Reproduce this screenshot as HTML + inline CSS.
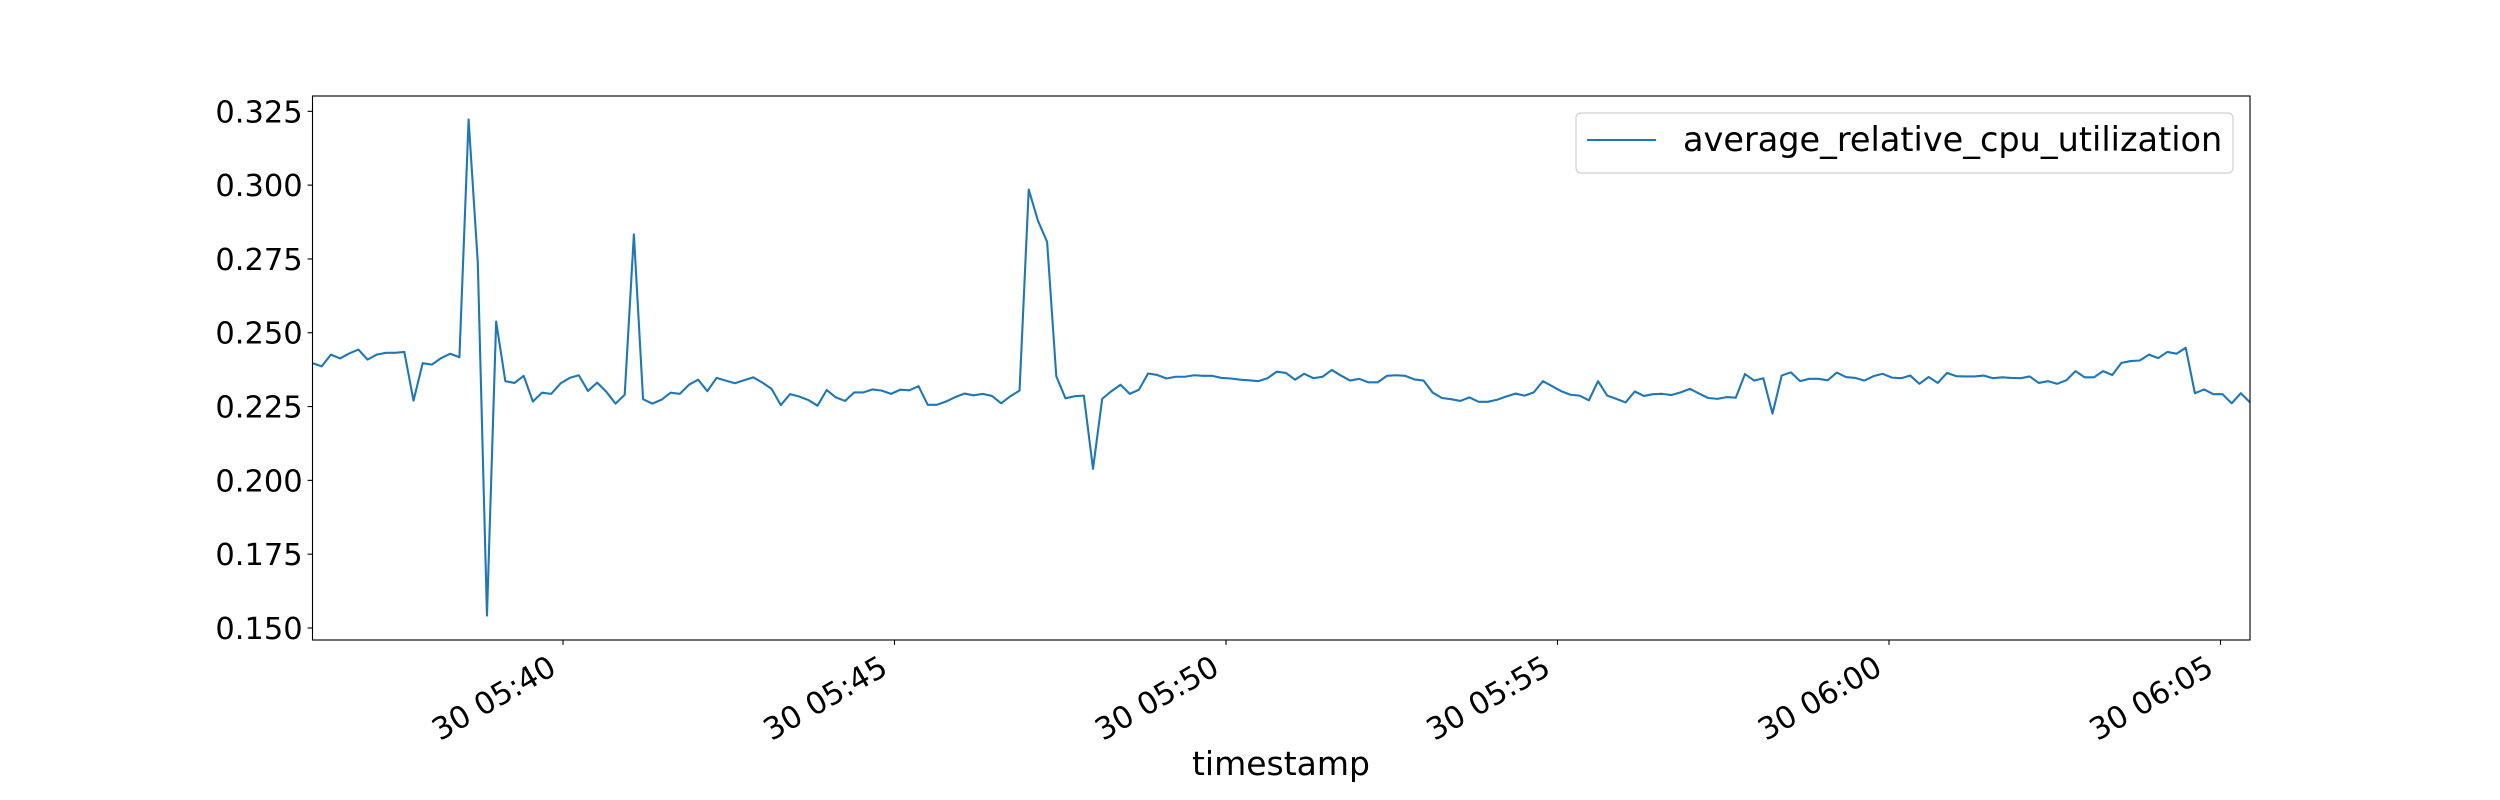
<!DOCTYPE html>
<html><head><meta charset="utf-8"><style>
html,body{margin:0;padding:0;background:#fff;}
svg{display:block;font-family:"DejaVu Sans","Liberation Sans",sans-serif;}
</style></head><body>
<svg id="chart" width="2500" height="800" viewBox="0 0 2500 800">
  <rect x="0" y="0" width="2500" height="800" fill="#fff"/>
  <g id="plot"></g>
  <g id="yaxis"></g>
  <g id="xaxis"></g>
  <rect x="312.5" y="96" width="1937.5" height="544" fill="none" stroke="#000" stroke-width="1.1"/>
  <text x="1281" y="775" font-size="33" text-anchor="middle">timestamp</text>
  <g>
    <rect x="1576" y="113" width="657" height="60" rx="5" fill="#fff" fill-opacity="0.8" stroke="#d0d0d0" stroke-width="1.2"/>
    <line x1="1587" y1="140" x2="1656" y2="140" stroke="#1f77b4" stroke-width="2.1"/>
    <text x="1683" y="151" font-size="33.5">average_relative_cpu_utilization</text>
  </g>
</svg>
<script>
const seriesValues = [
0.2397,0.2386,0.2426,0.2413,0.2430,0.2443,0.2409,0.2426,0.2432,0.2432,0.2435,0.2270,0.2397,0.2392,0.2414,0.2429,0.2417,0.3222,0.2739,0.1542,0.2538,0.2336,0.2330,0.2354,0.2267,0.2297,0.2293,0.2328,0.2347,0.2356,0.2303,0.2331,0.2300,0.2260,0.2290,0.2833,0.2275,
0.2260,0.2273,0.2297,0.2293,0.2324,0.2341,0.2302,0.2347,0.2338,0.2329,0.2339,0.2349,0.2331,0.2310,0.2255,0.2292,0.2284,0.2272,0.2253,0.2306,0.2281,0.2269,0.2298,0.2298,0.2308,0.2304,0.2293,0.2307,0.2305,0.2319,0.2256,0.2256,0.2267,0.2282,0.2294,0.2288,
0.2293,0.2286,0.2261,0.2285,0.2304,0.2985,0.2880,0.2808,0.2353,0.2278,0.2285,0.2287,0.2039,0.2276,0.2302,0.2324,0.2293,0.2307,0.2362,0.2357,0.2345,0.2351,0.2351,0.2356,0.2354,0.2354,0.2347,0.2345,0.2341,0.2339,0.2336,0.2346,0.2368,0.2364,0.2341,0.2361,
0.2346,0.2351,0.2374,0.2355,0.2338,0.2344,0.2332,0.2332,0.2354,0.2356,0.2354,0.2342,0.2338,0.2297,0.2279,0.2275,0.2269,0.2281,0.2266,0.2266,0.2273,0.2284,0.2294,0.2287,0.2298,0.2336,0.2319,0.2302,0.2290,0.2287,0.2271,0.2336,0.2287,0.2276,0.2264,0.2301,
0.2286,0.2292,0.2293,0.2289,0.2298,0.2310,0.2294,0.2279,0.2276,0.2282,0.2280,0.2360,0.2338,0.2346,0.2226,0.2355,0.2366,0.2336,0.2344,0.2344,0.2339,0.2365,0.2350,0.2347,0.2338,0.2353,0.2361,0.2348,0.2346,0.2355,0.2327,0.2350,0.2330,0.2364,0.2353,0.2352,
0.2352,0.2355,0.2346,0.2349,0.2347,0.2346,0.2352,0.2330,0.2336,0.2327,0.2339,0.2370,0.2349,0.2349,0.2370,0.2357,0.2398,0.2404,0.2406,0.2426,0.2414,0.2435,0.2429,0.2449,0.2295,0.2308,0.2292,0.2292,0.2261,0.2295,0.2264
];
const timeRangeSec = [21373.3, 23126.7]; // 05:36:13.3 -> 06:05:26.7 (seconds from midnight)
const yTicks = [0.150,0.175,0.200,0.225,0.250,0.275,0.300,0.325];
const yTickLabels = ["0.150","0.175","0.200","0.225","0.250","0.275","0.300","0.325"];
const xTicksSec = [21600,21900,22200,22500,22800,23100];
const xTickLabels = ["30 05:40","30 05:45","30 05:50","30 05:55","30 06:00","30 06:05"];

const NS = "http://www.w3.org/2000/svg";
const L = 312.5, R = 2250, T = 96, B = 640;
const yMin = 0.14593, yMax = 0.33019;
function ys(v){ return B - (v - yMin) / (yMax - yMin) * (B - T); }
function xt(s){ return L + (s - timeRangeSec[0]) / (timeRangeSec[1] - timeRangeSec[0]) * (R - L); }
function xi(i){ const s = timeRangeSec[0] + i * (timeRangeSec[1] - timeRangeSec[0]) / (seriesValues.length - 1); return xt(s); }

const plot = document.getElementById('plot');
let d = '';
seriesValues.forEach((v, i) => { d += (i ? 'L' : 'M') + xi(i).toFixed(2) + ' ' + ys(v).toFixed(2); });
const path = document.createElementNS(NS, 'path');
path.setAttribute('d', d);
path.setAttribute('fill', 'none');
path.setAttribute('stroke', '#1f77b4');
path.setAttribute('stroke-width', '2.1');
path.setAttribute('stroke-linejoin', 'round');


plot.appendChild(path);

const yaxis = document.getElementById('yaxis');
yTicks.forEach((v, k) => {
  const y = ys(v);
  const ln = document.createElementNS(NS, 'line');
  ln.setAttribute('x1', L - 4.9); ln.setAttribute('x2', L);
  ln.setAttribute('y1', y); ln.setAttribute('y2', y);
  ln.setAttribute('stroke', '#000'); ln.setAttribute('stroke-width', '1.1');
  
  
  yaxis.appendChild(ln);
  const t = document.createElementNS(NS, 'text');
  t.setAttribute('x', L - 9.8); t.setAttribute('y', y + 11);
  t.setAttribute('font-size', '30.5'); t.setAttribute('text-anchor', 'end');
  t.textContent = yTickLabels[k];
  
  
  yaxis.appendChild(t);
});

const xaxis = document.getElementById('xaxis');
xTicksSec.forEach((s, k) => {
  const x = xt(s);
  const ln = document.createElementNS(NS, 'line');
  ln.setAttribute('x1', x); ln.setAttribute('x2', x);
  ln.setAttribute('y1', B); ln.setAttribute('y2', B + 4.9);
  ln.setAttribute('stroke', '#000'); ln.setAttribute('stroke-width', '1.1');
  
  
  xaxis.appendChild(ln);
  const t = document.createElementNS(NS, 'text');
  const ax = x - 5, ay = 673;
  t.setAttribute('x', ax); t.setAttribute('y', ay);
  t.setAttribute('font-size', '30.5'); t.setAttribute('text-anchor', 'end');
  t.setAttribute('transform', 'rotate(-30 ' + ax + ' ' + ay + ')');
  t.textContent = xTickLabels[k];
  
  
  xaxis.appendChild(t);
});
</script>
</body></html>
